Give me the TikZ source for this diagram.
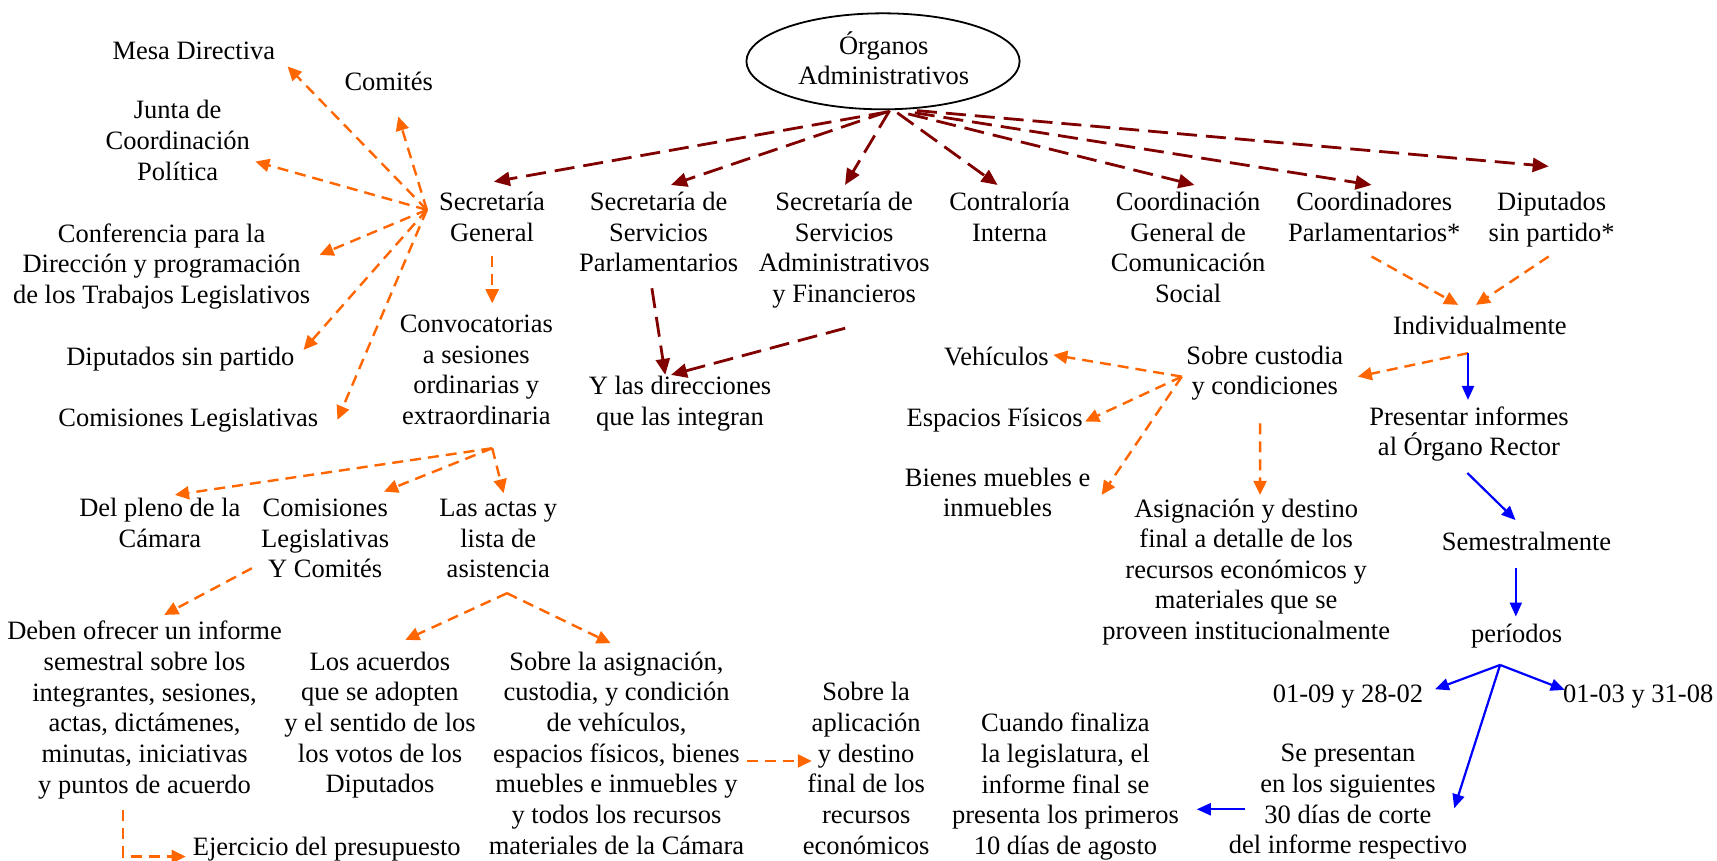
\documentclass[tikz,border=0pt]{standalone}
\usepackage{fontspec}
\setmainfont{Liberation Serif}
\usetikzlibrary{arrows.meta,shapes.geometric}
\definecolor{org}{RGB}{255,102,0}
\definecolor{dred}{RGB}{128,0,0}
\definecolor{blu}{RGB}{0,0,255}
\begin{document}
\begin{tikzpicture}[x=0.5475pt,y=-0.5475pt,
  txt/.style={align=center, inner sep=0pt, outer sep=0pt,
    font=\fontsize{13.25pt}{15.33pt}\selectfont,
    execute at begin node=\strut, execute at end node=\strut, yshift=-1.6pt},
  oarr/.style={draw=org, line width=1.2pt, dash pattern=on 5.5pt off 3.5pt,
    -{Triangle[length=7pt,width=6.5pt]}},
  rarr/.style={draw=dred, line width=1.4pt, dash pattern=on 10pt off 4.5pt,
    -{Triangle[length=8pt,width=7pt]}},
  barr/.style={draw=blu, line width=1.1pt, -{Triangle[length=7pt,width=6pt]}}]
\useasboundingbox[fill=white] (0,0) rectangle (1568,786);

% ---------- nodes ----------
\node[draw, ellipse, line width=0.9pt, minimum width=136.6pt, minimum height=48pt,
  inner sep=0pt] (ell) at (806.4,56) {};
\node[txt] (elltext) at (807,54.3) {Órganos\\Administrativos};

\node[txt] (mesa) at (177,45.7) {Mesa Directiva};
\node[txt] (comites) at (355,74) {Comités};
\node[txt] (junta) at (162.3,129.4) {Junta de\\Coordinación\\Política};
\node[txt] (conf) at (147.6,242) {Conferencia para la\\Dirección y programación\\de los Trabajos Legislativos};
\node[txt] (dsp) at (164.7,325.7) {Diputados sin partido};
\node[txt] (comleg) at (172,380.5) {Comisiones Legislativas};
\node[txt] (sg) at (449.3,199.3) {Secretaría\\General};
\node[txt] (conv) at (435,339) {Convocatorias\\a sesiones\\ordinarias y\\extraordinaria};
\node[txt] (ssp) at (601.4,213) {Secretaría de\\Servicios\\Parlamentarios};
\node[txt] (ssa) at (770.9,227) {Secretaría de\\Servicios\\Administrativos\\y Financieros};
\node[txt] (contra) at (922,199) {Contraloría\\Interna};
\node[txt] (cgcs) at (1085,227) {Coordinación\\General de\\Comunicación\\Social};
\node[txt] (coordp) at (1255,199) {Coordinadores\\Parlamentarios*};
\node[txt] (dipstar) at (1417,199) {Diputados\\sin partido*};
\node[txt] (ylas) at (621,367) {Y las direcciones\\que las integran};
\node[txt] (indiv) at (1351.4,296.8) {Individualmente};
\node[txt] (custodia) at (1155,339.5) {Sobre custodia\\y condiciones};
\node[txt] (vehic) at (910,325) {Vehículos};
\node[txt] (espacios) at (908.3,381) {Espacios Físicos};
\node[txt] (bienes) at (911,451) {Bienes muebles e\\inmuebles};
\node[txt] (presentar) at (1341.5,395) {Presentar informes\\al Órgano Rector};
\node[txt] (asign) at (1138,521) {Asignación y destino\\final a detalle de los\\recursos económicos y\\materiales que se\\proveen institucionalmente};
\node[txt] (semes) at (1394,494) {Semestralmente};
\node[txt] (periodos) at (1385,578) {períodos};
\node[txt] (p1) at (1231,633) {01-09 y 28-02};
\node[txt] (p2) at (1496,633) {01-03 y 31-08};
\node[txt] (pleno) at (146,479) {Del pleno de la\\Cámara};
\node[txt] (comyc) at (297,493) {Comisiones\\Legislativas\\Y Comités};
\node[txt] (actas) at (455,493) {Las actas y\\lista de\\asistencia};
\node[txt] (deben) at (132,647) {Deben ofrecer un informe\\semestral sobre los\\integrantes, sesiones,\\actas, dictámenes,\\minutas, iniciativas\\y puntos de acuerdo};
\node[txt] (acuerdos) at (347,661) {Los acuerdos\\que se adopten\\y el sentido de los\\los votos de los\\Diputados};
\node[txt] (asig2) at (563,689) {Sobre la asignación,\\custodia, y condición\\de vehículos,\\espacios físicos, bienes\\muebles e inmuebles y\\y todos los recursos\\materiales de la Cámara};
\node[txt] (ejer) at (298.4,773) {Ejercicio del presupuesto};
\node[txt] (aplic) at (791,703) {Sobre la\\aplicación\\y destino\\final de los\\recursos\\económicos};
\node[txt] (cuando) at (973,717) {Cuando finaliza\\la legislatura, el\\informe final se\\presenta los primeros\\10 días de agosto};
\node[txt] (sepres) at (1231,731) {Se presentan\\en los siguientes\\30 días de corte\\del informe respectivo};

% ---------- dark red connectors ----------
\draw[rarr] ([shift={(5,46)}]ell.center) -- ([shift={(1.7,-36.3)}]sg.center);
\draw[rarr] ([shift={(4,46)}]ell.center) -- ([shift={(11.4,-47)}]ssp.center);
\draw[rarr] ([shift={(6,45)}]ell.center) -- ([shift={(0.8,-61)}]ssa.center);
\draw[rarr] ([shift={(13,47)}]ell.center) -- ([shift={(-11,-33)}]contra.center);
\draw[rarr] ([shift={(23,48)}]ell.center) -- ([shift={(5.8,-61)}]cgcs.center);
\draw[rarr] ([shift={(29,47)}]ell.center) -- ([shift={(-2.5,-33)}]coordp.center);
\draw[rarr] ([shift={(31,45)}]ell.center) -- ([shift={(-2.7,-50)}]dipstar.center);
\draw[rarr] ([shift={(-6.1,47.3)}]ssp.center) -- ([shift={(-13.5,-27.6)}]ylas.center);
\draw[rarr] ([shift={(0.9,69.8)}]ssa.center) -- ([shift={(-8.2,-27.6)}]ylas.center);

% ---------- orange connectors ----------
\coordinate (sghub) at ([shift={(-59.5,-10.6)}]sg.center);
\draw[oarr] (sghub) -- ([shift={(85.6,12.1)}]mesa.center);
\draw[oarr] (sghub) -- ([shift={(8.7,29.5)}]comites.center);
\draw[oarr] (sghub) -- ([shift={(70.9,15.2)}]junta.center);
\draw[oarr] (sghub) -- ([shift={(144.3,-12.2)}]conf.center);
\draw[oarr] (sghub) -- ([shift={(112.5,-9.1)}]dsp.center);
\draw[oarr] (sghub) -- ([shift={(136.2,0)}]comleg.center);
\draw[oarr] ([shift={(0.2,31.7)}]sg.center) -- ([shift={(14.5,-65)}]conv.center);

\coordinate (convhub) at ([shift={(14.5,67.4)}]conv.center);
\draw[oarr] (convhub) -- ([shift={(13.8,-30)}]pleno.center);
\draw[oarr] (convhub) -- ([shift={(53.7,-47)}]comyc.center);
\draw[oarr] (convhub) -- ([shift={(4.9,-45.5)}]actas.center);
\draw[oarr] ([shift={(-67,23)}]comyc.center) -- ([shift={(18,-88.4)}]deben.center);

\coordinate (actashub) at ([shift={(8,45.8)}]actas.center);
\draw[oarr] (actashub) -- ([shift={(23.2,-79.6)}]acuerdos.center);
\draw[oarr] (actashub) -- ([shift={(-5.3,-104.5)}]asig2.center);
\draw[oarr] ([shift={(-19.5,89.7)}]deben.center) |- ([shift={(-128.8,6.3)}]ejer.center);
\draw[oarr] ([shift={(118.8,3)}]asig2.center) -- ([shift={(-49.7,-11)}]aplic.center);

\coordinate (custhub) at ([shift={(-75.8,1.5)}]custodia.center);
\draw[oarr] (custhub) -- ([shift={(51.9,-3.8)}]vehic.center);
\draw[oarr] (custhub) -- ([shift={(82.6,1)}]espacios.center);
\draw[oarr] (custhub) -- ([shift={(95.1,-2)}]bienes.center);
\draw[oarr] ([shift={(-4.3,44.1)}]custodia.center) -- ([shift={(12.7,-72)}]asign.center);

\draw[oarr] ([shift={(-2.5,32.3)}]coordp.center) -- ([shift={(-19.8,-21.3)}]indiv.center);
\draw[oarr] ([shift={(-2.7,32.3)}]dipstar.center) -- ([shift={(-3.6,-21.3)}]indiv.center);
\coordinate (indivhub) at ([shift={(-10.8,22.8)}]indiv.center);
\draw[oarr] (indivhub) -- ([shift={(85,1.5)}]custodia.center);

% ---------- blue connectors ----------
\draw[barr] (indivhub) -- ([shift={(-0.9,-32.7)}]presentar.center);
\draw[barr] ([shift={(-1.5,34)}]presentar.center) -- ([shift={(-10,-22)}]semes.center);
\draw[barr] ([shift={(-9.7,22)}]semes.center) -- ([shift={(-0.7,-17.9)}]periodos.center);
\coordinate (perhub) at ([shift={(-15.1,26.3)}]periodos.center);
\draw[barr] (perhub) -- ([shift={(79.4,-6.5)}]p1.center);
\draw[barr] (perhub) -- ([shift={(-67.1,-5.9)}]p2.center);
\draw[barr] (perhub) -- ([shift={(97,4.2)}]sepres.center);
\draw[barr] ([shift={(-94.2,5.1)}]sepres.center) -- ([shift={(119.9,19.1)}]cuando.center);
\end{tikzpicture}
\end{document}
